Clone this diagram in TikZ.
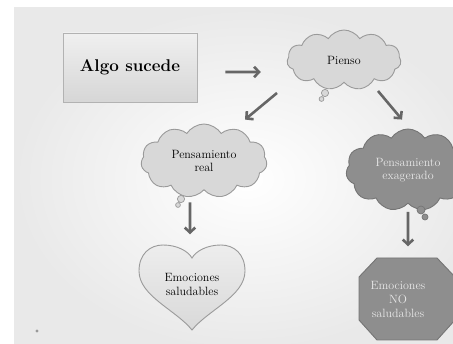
\documentclass[tikz,border=0pt]{standalone}
\usetikzlibrary{shapes.symbols,arrows.meta}

\definecolor{fondo}{HTML}{E9E9E9}
\definecolor{nubeclara}{HTML}{D8D8D8}
\definecolor{bordeclaro}{HTML}{9A9A9A}
\definecolor{nubeoscura}{HTML}{8E8E8E}
\definecolor{bordeoscuro}{HTML}{757575}
\definecolor{flechagris}{HTML}{666666}
\definecolor{textoclaro}{HTML}{E8E8E8}

\tikzset{
  nube/.style={cloud, cloud puffs=11, cloud puff arc=115, cloud ignores aspect,
    draw=bordeclaro, fill=nubeclara, line width=0.9pt, align=center, inner sep=0pt,
    font=\fontsize{12}{13.5}\selectfont},
  nubeosc/.style={nube, draw=bordeoscuro, fill=nubeoscura, text=textoclaro},
  burbuja/.style={draw=bordeclaro, fill=nubeclara, line width=0.7pt},
  flecha/.style={draw=flechagris, line width=2.6pt, -{Straight Barb[length=5pt,width=10.5pt]}},
  texto/.style={align=center, font=\fontsize{12}{14}\selectfont}
}

\begin{document}
\begin{tikzpicture}[x=1pt,y=-1pt]

  \useasboundingbox (0,0) rectangle (453,344);
  \clip (0,0) rectangle (453,344);
  \fill[white] (0,0) rectangle (453,344);
  \shade[inner color=white, outer color=fondo] (14,8) rectangle (480,350);

  % caja
  \node[draw=gray!60, line width=0.8pt, top color=gray!12, bottom color=gray!32,
        minimum width=134pt, minimum height=69pt,
        font=\fontsize{17}{20}\selectfont\bfseries] (algo) at (130,67.5) {Algo sucede};

  % nubes
  \node[nube, minimum width=114pt, minimum height=60pt] (pienso) at (344,60) {Pienso};
  \draw[burbuja] (325,93) circle[radius=3.6pt] (321.5,99) circle[radius=2.4pt];

  \node[nube, minimum width=126pt, minimum height=74pt] (real) at (204,161) {Pensamiento\\real};
  \draw[burbuja] (181,199) circle[radius=3.6pt] (178,205) circle[radius=2.4pt];

  \node[nubeosc, minimum width=124pt, minimum height=82pt] (exag) at (408,170) {Pensamiento\\exagerado};
  \draw[burbuja, draw=bordeoscuro, fill=nubeoscura] (421,210) circle[radius=4pt] (425,217) circle[radius=3pt];

  % corazon
  \draw[draw=bordeclaro, line width=0.9pt, top color=gray!14, bottom color=gray!30]
    (192,330) .. controls (176,310) and (139,296) .. (139,271)
    .. controls (139,254) and (150,245) .. (163,245)
    .. controls (177,245) and (188,251) .. (192,258)
    .. controls (196,251) and (207,245) .. (221,245)
    .. controls (234,245) and (245,254) .. (245,271)
    .. controls (245,296) and (208,310) .. (192,330) -- cycle;
  \node[texto] (sanas) at (192,284) {Emociones\\saludables};

  % octogono
  \draw[draw=bordeoscuro, line width=0.9pt, fill=nubeoscura]
    (377,258) -- (437,258) -- (455,277) -- (455,320) -- (437,340)
    -- (377,340) -- (359,320) -- (359,277) -- cycle;
  \node[texto, text=textoclaro] (nosanas) at (398,299) {Emociones\\NO\\saludables};

  % flechas
  \draw[flecha] ([xshift=28pt,yshift=-4.5pt]algo.east) -- ([xshift=-26pt,yshift=-12pt]pienso.west);
  \draw[flecha] ([xshift=-67pt,yshift=-10pt]pienso.south) -- ([xshift=41pt,yshift=4pt]real.north);
  \draw[flecha] ([xshift=34pt,yshift=-8pt]pienso.south) -- ([xshift=-6pt,yshift=9pt]exag.north);
  \draw[flecha] ([xshift=-14pt,yshift=-12pt]real.south) -- ([xshift=-2pt,yshift=35pt]sanas.north);
  \draw[flecha] ([yshift=-8pt]exag.south) -- ([xshift=10pt,yshift=31pt]nosanas.north);

  % punto
  \fill[gray!80] (37,331) circle[radius=1.6pt];

\end{tikzpicture}
\end{document}
